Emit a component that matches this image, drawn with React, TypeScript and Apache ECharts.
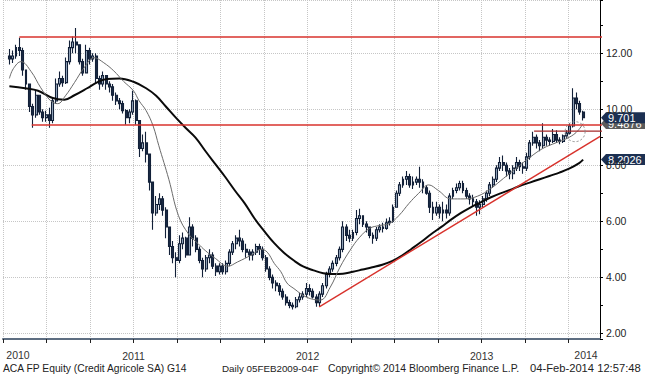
import React, { useEffect, useRef } from 'react';
import * as echarts from 'echarts';

// ---- time base: weekly bars starting Fri 15-Oct-2010 ----
const START_UTC = Date.UTC(2010, 9, 15);
const WEEK_MS = 7 * 86400000;
const YEAR_MS = 365.2425 * 86400000;

// weekly [open, close, low, high]
const weeklyOHLC: number[][] = [
  [11.9, 11.8, 11.6, 12.15], [11.8, 11.9, 11.65, 12.1], [11.9, 12.2, 11.8, 12.3], [12.2, 12.1, 11.9, 12.55],
  [12.1, 11.4, 11.2, 12.2], [11.4, 10.9, 10.7, 11.4], [10.9, 10.1, 9.9, 10.9], [10.1, 9.8, 9.34, 10.2],
  [9.8, 10.5, 9.7, 10.66], [10.5, 9.9, 9.8, 10.5], [9.9, 9.7, 9.55, 10.0], [9.7, 9.8, 9.55, 9.95],
  [9.8, 9.6, 9.34, 10.05], [9.6, 10.3, 9.5, 10.4], [10.3, 10.9, 10.2, 11.1], [10.9, 11.1, 10.8, 11.35],
  [11.1, 10.95, 10.8, 11.2], [10.95, 11.7, 10.9, 11.85], [11.7, 12.2, 11.6, 12.45], [12.2, 12.4, 12.0, 12.6],
  [12.4, 12.3, 12.0, 12.9], [12.3, 11.7, 11.6, 12.3], [11.7, 11.3, 11.2, 11.8], [11.3, 12.1, 11.3, 12.3],
  [12.1, 11.8, 11.6, 12.2], [11.8, 11.9, 11.7, 12.0], [11.9, 11.1, 10.9, 12.0], [11.1, 10.9, 10.7, 11.2],
  [10.9, 11.2, 10.8, 11.35], [11.2, 10.9, 10.7, 11.2], [10.9, 10.8, 10.6, 11.0], [10.8, 10.5, 10.3, 10.9],
  [10.5, 10.3, 10.15, 10.6], [10.3, 10.2, 10.0, 10.4], [10.2, 9.95, 9.85, 10.3], [9.95, 9.7, 9.45, 10.0],
  [9.7, 9.9, 9.5, 10.0], [9.9, 10.3, 9.8, 10.66], [10.3, 9.6, 9.45, 10.35], [9.6, 8.6, 8.3, 9.6],
  [8.6, 8.8, 8.5, 9.1], [8.8, 8.4, 8.1, 9.2], [8.4, 7.4, 7.1, 8.4], [7.4, 6.3, 5.7, 7.4],
  [6.3, 6.6, 6.2, 6.9], [6.6, 6.8, 6.4, 7.0], [6.8, 6.4, 6.2, 6.9], [6.4, 5.8, 5.4, 6.5],
  [5.8, 5.1, 4.8, 5.8], [5.1, 4.7, 4.5, 5.3], [4.7, 4.6, 4.0, 4.9], [4.6, 5.2, 4.5, 5.5],
  [5.2, 5.4, 5.0, 5.6], [5.4, 4.8, 4.7, 5.45], [4.8, 5.8, 4.8, 6.15], [5.8, 5.4, 5.1, 5.9],
  [5.4, 5.0, 4.9, 5.5], [5.0, 4.6, 4.5, 5.1], [4.6, 4.3, 4.0, 4.7], [4.3, 4.7, 4.2, 4.8],
  [4.7, 4.8, 4.5, 5.0], [4.8, 4.4, 4.3, 4.9], [4.4, 4.2, 4.05, 4.5], [4.2, 4.4, 4.1, 4.5],
  [4.4, 4.2, 4.1, 4.5], [4.2, 4.5, 4.1, 4.6], [4.5, 4.9, 4.4, 5.0], [4.9, 5.2, 4.8, 5.3],
  [5.2, 5.4, 5.0, 5.5], [5.4, 5.3, 5.1, 5.7], [5.3, 5.0, 4.9, 5.4], [5.0, 4.9, 4.7, 5.2],
  [4.9, 4.8, 4.6, 5.0], [4.8, 4.9, 4.6, 5.0], [4.9, 5.1, 4.8, 5.2], [5.1, 5.0, 4.8, 5.2],
  [5.0, 4.7, 4.6, 5.1], [4.7, 4.3, 4.2, 4.8], [4.3, 4.0, 3.9, 4.4], [4.0, 3.8, 3.6, 4.1],
  [3.8, 3.7, 3.5, 3.9], [3.7, 3.5, 3.35, 3.8], [3.5, 3.3, 3.2, 3.6], [3.3, 3.1, 3.0, 3.4],
  [3.1, 3.0, 2.9, 3.2], [3.0, 2.95, 2.85, 3.1], [2.95, 3.2, 2.9, 3.3], [3.2, 3.3, 3.1, 3.45],
  [3.3, 3.4, 3.2, 3.5], [3.4, 3.6, 3.3, 3.8], [3.6, 3.5, 3.35, 3.75], [3.5, 3.3, 3.25, 3.6],
  [3.3, 3.1, 2.95, 3.4], [3.1, 3.4, 2.95, 3.5], [3.4, 3.7, 3.3, 3.8], [3.7, 4.1, 3.6, 4.2],
  [4.1, 4.3, 4.0, 4.4], [4.3, 4.5, 4.2, 4.6], [4.5, 4.7, 4.4, 4.8], [4.7, 5.0, 4.6, 5.1],
  [5.0, 5.8, 4.9, 6.0], [5.8, 5.5, 5.3, 5.9], [5.5, 5.4, 5.25, 5.7], [5.4, 5.6, 5.3, 5.7],
  [5.6, 6.1, 5.5, 6.4], [6.1, 6.2, 5.9, 6.45], [6.2, 5.9, 5.8, 6.2], [5.9, 5.8, 5.6, 6.0],
  [5.8, 5.5, 5.4, 5.8], [5.5, 5.4, 5.2, 5.6], [5.4, 5.7, 5.3, 5.8], [5.7, 5.8, 5.6, 5.9],
  [5.8, 5.75, 5.6, 5.95], [5.75, 5.95, 5.7, 6.1], [5.95, 6.0, 5.85, 6.15], [6.0, 6.5, 5.95, 6.6],
  [6.5, 7.0, 6.5, 7.1], [7.0, 7.3, 6.9, 7.4], [7.3, 7.5, 7.2, 7.6], [7.5, 7.6, 7.3, 7.8],
  [7.6, 7.3, 7.2, 7.7], [7.3, 7.4, 7.15, 7.6], [7.4, 7.5, 7.3, 7.6], [7.5, 7.4, 7.2, 7.95],
  [7.4, 7.2, 7.0, 7.5], [7.2, 7.0, 6.95, 7.3], [7.0, 6.5, 6.3, 7.1], [6.5, 6.3, 6.05, 6.7],
  [6.3, 6.5, 6.2, 6.7], [6.5, 6.3, 6.1, 6.6], [6.3, 6.4, 6.0, 6.7], [6.4, 6.3, 6.1, 6.6],
  [6.3, 6.9, 6.2, 7.0], [6.9, 7.1, 6.8, 7.2], [7.1, 7.2, 7.0, 7.35], [7.2, 7.35, 7.1, 7.45],
  [7.35, 7.1, 7.0, 7.45], [7.1, 6.9, 6.8, 7.2], [6.9, 6.8, 6.6, 7.0], [6.8, 6.7, 6.55, 6.95],
  [6.7, 6.5, 6.2, 6.8], [6.5, 6.6, 6.25, 6.75], [6.6, 6.8, 6.5, 6.9], [6.8, 7.0, 6.7, 7.1],
  [7.0, 7.3, 6.9, 7.4], [7.3, 7.5, 7.2, 7.6], [7.5, 7.9, 7.4, 8.0], [7.9, 8.1, 7.8, 8.3],
  [8.1, 8.0, 7.8, 8.35], [8.0, 7.8, 7.6, 8.1], [7.8, 7.7, 7.5, 7.9], [7.7, 7.9, 7.5, 8.0],
  [7.9, 8.1, 7.8, 8.3], [8.1, 7.95, 7.8, 8.2], [7.95, 7.9, 7.7, 8.1], [7.9, 8.3, 7.8, 8.45],
  [8.3, 8.8, 8.2, 8.9], [8.8, 9.0, 8.7, 9.2], [9.0, 8.8, 8.6, 9.1], [8.8, 8.7, 8.5, 8.9],
  [8.7, 9.0, 8.6, 9.5], [9.0, 8.9, 8.7, 9.1], [8.9, 8.85, 8.7, 9.0], [8.85, 9.1, 8.8, 9.3],
  [9.1, 8.9, 8.8, 9.25], [8.9, 8.85, 8.75, 9.0], [8.85, 9.05, 8.8, 9.1], [9.05, 9.15, 8.95, 9.25],
  [9.15, 9.4, 9.1, 9.5], [9.4, 10.4, 9.35, 10.75], [10.4, 10.2, 10.0, 10.6], [10.2, 9.9, 9.8, 10.3],
  [9.9, 9.701, 9.6, 9.95],
];

// moving averages, [week index, value]
const ma50Points: number[][] = [
  [0, 11.1], [1.2, 11.45], [3.5, 11.7], [6.5, 11.35], [9.4, 10.77], [12.4, 10.3], [14.5, 10.2],
  [16.8, 10.48], [19.5, 10.95], [22.4, 11.48], [25.4, 11.84], [28.3, 11.66], [31.3, 11.37],
  [34.2, 11.0], [37.2, 10.66], [38.9, 10.3], [41, 9.95], [43.1, 9.4], [44.8, 8.7], [47.8, 7.5],
  [50.7, 6.2], [53.7, 5.55], [56.6, 5.2], [58.7, 4.96], [61.7, 4.68], [65.5, 4.4], [68.4, 4.55],
  [72.6, 4.8], [75.5, 5.0], [77.3, 4.9], [79.4, 4.5], [81.4, 4.2], [83.2, 3.8], [85.3, 3.6],
  [89.1, 3.29], [93.2, 3.19], [96.2, 3.65], [99.1, 4.36], [102.1, 4.96], [105, 5.43], [108, 5.75],
  [110.9, 5.85], [113.9, 5.92], [116.8, 6.21], [119.8, 6.64], [122.7, 7.0], [125.7, 7.3],
  [128.6, 7.1], [132.4, 6.8], [136.3, 6.8], [140.4, 6.9], [144.3, 7.17], [148.1, 7.53],
  [152.2, 7.92], [156, 8.28], [159.9, 8.6], [164, 8.81], [167, 8.95], [169.9, 9.17], [172, 9.4876],
];
const ma200Points: number[][] = [
  [0, 10.82], [4.7, 10.75], [8.6, 10.66], [13, 10.4], [16.5, 10.34], [19.5, 10.5], [23.3, 10.75],
  [26.3, 10.96], [29.2, 11.08], [33, 11.1], [37.2, 10.98], [41, 10.75], [44, 10.48], [46.9, 10.1],
  [49.9, 9.7], [52.8, 9.34], [55.8, 8.99], [58.7, 8.52], [61.7, 8.05], [64.6, 7.6], [67.6, 7.1],
  [70.5, 6.65], [73.5, 6.1], [76.4, 5.65], [79.4, 5.22], [82.3, 4.88], [85.3, 4.6], [88.2, 4.38],
  [91.2, 4.25], [94.1, 4.15], [97.1, 4.12], [100, 4.13], [103, 4.2], [105.9, 4.28], [108.8, 4.36],
  [111.8, 4.45], [114.7, 4.58], [117.7, 4.78], [120.6, 5.02], [123.6, 5.28], [126.5, 5.55],
  [129.5, 5.8], [132.4, 6.06], [135.4, 6.3], [138.3, 6.5], [141.3, 6.68], [144.2, 6.85],
  [147.2, 7.0], [150.1, 7.12], [153.1, 7.27], [156, 7.38], [159, 7.5], [161.9, 7.62],
  [164.9, 7.74], [167.8, 7.88], [170.8, 8.08], [172, 8.2026],
];

// drawn levels / trend line, [week index, value]
const topResistance: number[][] = [[3, 12.58], [178, 12.58]];
const midResistance: number[][] = [[6.7, 9.44], [178, 9.44]];
const shortResistance: number[][] = [[157.3, 9.22], [178, 9.22]];
const trendSupport: number[][] = [[92.9, 2.95], [177.1, 9.03]];
// dashed annotation circle, [week index, value]
const annotationCircle = [169.6, 9.2];

const priceTags = [
  { value: 9.4876, text: '9.4876', color: '#5b5b5b' },
  { value: 9.701, text: '9.701', color: '#1c3052' },
  { value: 8.2026, text: '8.2026', color: '#1c3052' },
];
const edgeYearLabels = [
  { text: '2010', x: 18 },
  { text: '2014', x: 586 },
];
const footerTexts = [
  { text: 'ACA FP Equity (Credit Agricole SA) G14', x: 3, size: 10.3 },
  { text: 'Daily 05FEB2009-04F', x: 222, size: 9.8 },
  { text: 'Copyright\u00A9 2014 Bloomberg Finance L.P.', x: 328, size: 10.4 },
  { text: '04-Feb-2014 12:57:48', x: 530, size: 11.2 },
];

const FONT = 'Liberation Sans, Arial, sans-serif';
const weekToYear = (w: number) => 1970 + (START_UTC + w * WEEK_MS) / YEAR_MS;
const toXY = (pts: number[][]) => pts.map(([w, v]) => [weekToYear(w), v]);

export default function App() {
  const ref = useRef<HTMLDivElement>(null);
  useEffect(() => {
    if (!ref.current) return;
    const chart = echarts.init(ref.current, undefined, { renderer: 'svg' });
    const Y_MIN = 1.8;
    const Y_MAX = 13.9;
    const redLine = (data: number[][], color = '#d8322c') => ({
      type: 'line', data: toXY(data), symbol: 'none', z: 4,
      lineStyle: { color, width: 1.4 }, silent: true,
    });
    chart.setOption({
      animation: false,
      backgroundColor: '#ffffff',
      grid: { left: -6, right: 45, top: -1, bottom: 37 },
      xAxis: {
        type: 'value', min: 2010.75, max: 2014.18, interval: 0.25,
        axisLine: { show: true, onZero: false, lineStyle: { color: '#5e6e82', width: 2 } },
        axisTick: { show: true, length: 4, lineStyle: { color: '#222', width: 1 } },
        axisLabel: {
          margin: 11, color: '#333', fontSize: 10.5, fontFamily: FONT, showMaxLabel: false,
          formatter: (v: number) => {
            const f = v - Math.floor(v);
            return Math.abs(f - 0.5) < 0.01 ? String(Math.floor(v)) : '';
          },
        },
        splitLine: { show: true, lineStyle: { color: '#c6c6c6', type: 'dotted', width: 1 } },
      },
      yAxis: [
        {
          type: 'value', position: 'right', min: Y_MIN, max: Y_MAX,
          minInterval: 2, maxInterval: 2, splitNumber: 6,
          axisLine: { show: true, lineStyle: { color: '#000', width: 1 } },
          axisTick: { show: true, length: 3, lineStyle: { color: '#000' } },
          axisLabel: {
            margin: 6, color: '#222', fontSize: 10.5, fontFamily: FONT,
            formatter: (v: number) => (Math.abs(v / 2 - Math.round(v / 2)) < 1e-6 ? v.toFixed(2) : ''),
          },
          splitLine: { show: true, lineStyle: { color: '#c6c6c6', type: 'dotted', width: 1 } },
        },
        {
          type: 'value', position: 'right', min: Y_MIN, max: Y_MAX,
          minInterval: 1, maxInterval: 1, splitNumber: 12,
          axisLine: { show: false },
          axisTick: { show: true, length: 3, lineStyle: { color: '#000' } },
          axisLabel: { show: false },
          splitLine: { show: false },
        },
      ],
      series: [
        {
          type: 'candlestick',
          data: weeklyOHLC.map((d, i) => [weekToYear(i), d[0], d[1], d[2], d[3]]),
          encode: { x: 0, y: [1, 2, 3, 4] },
          barWidth: 2.4,
          z: 2,
          itemStyle: {
            color: '#9aacc2', color0: '#1b2a45',
            borderColor: '#122038', borderColor0: '#122038', borderWidth: 1.1,
          },
        },
        {
          type: 'line', data: toXY(ma200Points), symbol: 'none', smooth: 0.4, z: 3,
          lineStyle: { color: '#0a0a0a', width: 2 },
        },
        {
          type: 'line', data: toXY(ma50Points), symbol: 'none', smooth: 0.4, z: 3,
          lineStyle: { color: '#6a6a6a', width: 1 },
        },
        redLine(topResistance),
        redLine(midResistance),
        redLine(shortResistance, '#a52a2a'),
        redLine(trendSupport),
      ],
    });

    const tagEls: any[] = priceTags.map((t) => {
      const y = chart.convertToPixel({ yAxisIndex: 0 }, t.value) as number;
      return {
        type: 'group', x: 601, y, z: 10,
        children: [
          { type: 'polygon', shape: { points: [[0, 0], [5, -5.5], [44, -5.5], [44, 5.5], [5, 5.5]] }, style: { fill: t.color } },
          { type: 'text', x: 7, y: 0, style: { text: t.text, fill: '#fff', font: `11px ${FONT}`, verticalAlign: 'middle' } },
        ],
      };
    });
    const [cx, cy] = chart.convertToPixel({ xAxisIndex: 0, yAxisIndex: 0 }, [weekToYear(annotationCircle[0]), annotationCircle[1]]) as number[];
    const circleEl = {
      type: 'circle', shape: { cx, cy, r: 10 }, z: 5, silent: true,
      style: { fill: 'none', stroke: '#8a8a8a', lineWidth: 1, lineDash: [2, 2] },
    };
    const yearEls = edgeYearLabels.map((l) => ({
      type: 'text', x: l.x, y: 355,
      style: { text: l.text, fill: '#333', font: `10.5px ${FONT}`, align: 'center', verticalAlign: 'middle' },
    }));
    const footEls = footerTexts.map((f) => ({
      type: 'text', x: f.x, y: 368,
      style: { text: f.text, fill: '#222', font: `${f.size}px ${FONT}`, align: 'left', verticalAlign: 'middle' },
    }));
    chart.setOption({ graphic: [circleEl, ...tagEls, ...yearEls, ...footEls] });

    return () => chart.dispose();
  }, []);
  return (
    <div
      ref={ref}
      style={{ position: 'fixed', left: 0, top: 0, width: 645, height: 376, background: '#fff' }}
    />
  );
}
